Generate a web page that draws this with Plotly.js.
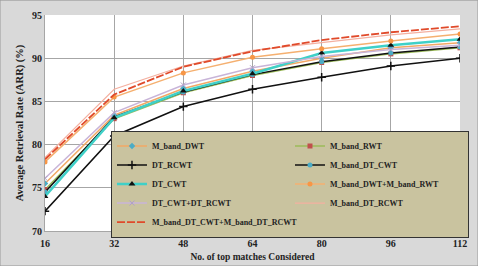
<!DOCTYPE html>
<html>
<head>
<meta charset="utf-8">
<script src="https://cdn.plot.ly/plotly-3.0.1.min.js"></script>
<style>html,body{margin:0;padding:0;background:#fff;}#chart{width:478px;height:266px;}</style>
</head>
<body>
<div id="chart"></div>
<script>
const topMatches = [16, 32, 48, 64, 80, 96, 112];
const seriesNames = [
  "M_band_DWT", "M_band_RWT", "DT_RCWT", "M_band_DT_CWT", "DT_CWT",
  "M_band_DWT+M_band_RWT", "DT_CWT+DT_RCWT", "M_band_DT_RCWT",
  "M_band_DT_CWT+M_band_DT_RCWT"
];
const mBandDWT        = [75.5, 83.4, 86.5, 88.5, 90.0, 91.2, 91.8];
const mBandRWT        = [74.8, 83.0, 86.0, 88.0, 89.5, 90.5, 91.2];
const dtRCWT          = [72.3, 81.0, 84.4, 86.4, 87.8, 89.1, 90.0];
const mBandDTCWT      = [74.5, 83.2, 86.1, 88.1, 89.6, 90.6, 91.3];
const dtCWT           = [74.0, 83.1, 86.2, 88.2, 90.6, 91.5, 92.2];
const mBandDWTplusRWT = [78.0, 85.5, 88.3, 90.1, 91.1, 92.0, 92.8];
const dtCWTplusRCWT   = [76.1, 83.7, 86.9, 88.9, 90.2, 91.0, 91.5];
const mBandDTRCWT     = [78.5, 86.4, 89.1, 90.9, 91.8, 92.7, 93.4];
const mBandDTCWTplusRCWT = [78.3, 85.8, 89.0, 90.8, 92.1, 93.0, 93.7];

const values = [mBandDWT, mBandRWT, dtRCWT, mBandDTCWT, dtCWT,
  mBandDWTplusRWT, dtCWTplusRCWT, mBandDTRCWT, mBandDTCWTplusRCWT];

const styles = [
  {line:{color:'#F2A865', width:1.5}, marker:{symbol:'diamond', color:'#4BACC6', size:5}, mode:'lines+markers'},
  {line:{color:'#9BBB59', width:1.5}, marker:{symbol:'square', color:'#C0504D', size:5}, mode:'lines+markers'},
  {line:{color:'#111111', width:1.5}, marker:{symbol:'cross-thin', color:'#111111', size:6, line:{color:'#111111', width:1.5}}, mode:'lines+markers'},
  {line:{color:'#111111', width:1.5}, marker:{symbol:'circle', color:'#4BACC6', size:5}, mode:'lines+markers'},
  {line:{color:'#3FD0C8', width:2.5}, marker:{symbol:'triangle-up', color:'#111111', size:6}, mode:'lines+markers'},
  {line:{color:'#F5B070', width:1.5}, marker:{symbol:'circle', color:'#F79646', size:5}, mode:'lines+markers'},
  {line:{color:'#C8B4D8', width:1.5}, marker:{symbol:'x-thin', color:'#B0A0C8', size:5, line:{color:'#B0A0C8', width:1}}, mode:'lines+markers'},
  {line:{color:'#F4B0A0', width:1.2}, mode:'lines'},
  {line:{color:'#E04A2A', width:1.8, dash:'8px,2px'}, mode:'lines'}
];

const traces = seriesNames.map((n, i) => Object.assign({
  x: topMatches, y: values[i], name: n, type: 'scatter'
}, styles[i]));

const serif = 'Liberation Serif, Times New Roman, serif';
const layout = {
  width: 478, height: 266,
  margin: {l: 45, r: 18, t: 15, b: 35, autoexpand: false},
  paper_bgcolor: '#D9D9D9',
  plot_bgcolor: '#FFFFFF',
  showlegend: true,
  xaxis: {
    range: [16, 112], tickvals: topMatches, ticktext: topMatches.map(String),
    showgrid: true, gridcolor: '#A6A6A6', gridwidth: 1,
    showline: true, linecolor: '#A6A6A6', zeroline: false,
    ticks: '', ticklabelstandoff: 3,
    tickfont: {family: serif, size: 10, color: '#222', weight: 'bold'},
    title: {text: 'No. of top matches Considered', font: {family: serif, size: 9.5, color: '#222', weight: 'bold'}, standoff: 5}
  },
  yaxis: {
    range: [70, 95], dtick: 5,
    showgrid: true, gridcolor: '#A6A6A6', gridwidth: 1,
    showline: true, linecolor: '#A6A6A6', zeroline: false,
    ticks: '', tickfont: {family: serif, size: 10, color: '#222', weight: 'bold'},
    title: {text: 'Average Retrieval Rate (ARR) (%)', font: {family: serif, size: 10.5, color: '#222', weight: 'bold'}, standoff: 6}
  },
  legend: {
    orientation: 'h', x: 0.159, y: 0.465, xanchor: 'left', yanchor: 'top',
    bgcolor: '#C9C39F', bordercolor: '#333333', borderwidth: 1,
    entrywidth: 133, entrywidthmode: 'pixels',
    itemwidth: 30,
    font: {family: serif, size: 8, color: '#222', weight: 'bold'}
  },
  shapes: [{type:'rect', xref:'paper', yref:'paper', x0:-0.1084, x1:1.0434, y0:-0.162, y1:1.069, line:{color:'#999', width:1}}]
};

Plotly.newPlot('chart', traces, layout, {displayModeBar: false, staticPlot: true});
</script>
</body>
</html>
